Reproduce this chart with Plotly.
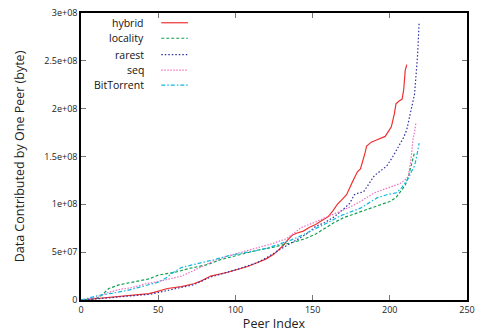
import plotly.graph_objects as go

# Data (values in bytes; y in units of 1e6 bytes)
hybrid_x = [0, 10, 20, 30, 44, 48, 56, 65, 73, 78, 84, 95, 101, 108, 114, 120, 125, 128, 131, 134, 137, 140, 144, 148, 152, 156, 160, 163, 166, 169, 172, 176, 179, 181, 183, 184, 185, 188, 191, 194, 197, 199, 201, 203, 204, 206, 208, 209, 210, 211]
hybrid_y = [0, 1.5, 3, 4.5, 6.6, 8.3, 12, 14, 17, 20, 25, 29, 32, 35, 39, 43, 48, 52, 57, 63, 68, 70, 72, 76, 79, 83, 87, 93, 100, 105, 110, 124, 134, 137, 147, 154, 161, 165, 167, 169, 171, 176, 181, 195, 205, 208, 210, 220, 240, 246]

locality_x = [0, 8, 12, 15, 18, 25, 33, 40, 44, 50, 56, 61, 70, 82, 90, 95, 104, 114, 124, 135, 139, 145, 152, 158, 164, 170, 177, 184, 192, 200, 204, 207, 210, 212, 213, 214, 215, 216]
locality_y = [0, 1, 3, 8, 12, 16, 18.5, 20, 22, 26, 28, 29, 33, 37, 42, 44, 48, 52, 55, 59, 61, 64, 69, 75, 81, 86, 90, 94, 98, 103, 107, 113, 120, 129, 135, 144, 150, 154]

rarest_x = [0, 10, 20, 30, 45, 56, 65, 73, 84, 95, 101, 114, 120, 128, 135, 141, 147, 152, 158, 164, 170, 174, 177, 180, 183, 186, 190, 194, 198, 202, 206, 209, 211, 213, 214, 216, 217, 218, 219]
rarest_y = [0, 1, 2.5, 4, 6, 10, 13, 16, 24, 29, 32, 39, 44, 52, 58, 64, 70, 77, 81, 87, 95, 101, 110, 112, 113, 120, 130, 135, 140, 150, 161, 170, 178, 192, 202, 215, 235, 256, 290]

seq_x = [0, 10, 18, 25, 33, 42, 52, 58, 65, 72, 78, 86, 95, 104, 114, 124, 133, 143, 151, 158, 166, 174, 181, 186, 190, 195, 200, 207, 210, 212, 213, 214, 215, 216, 217]
seq_y = [0, 3, 8, 11, 13, 17, 20, 22, 25, 30, 35, 41, 46, 50, 54, 59, 64, 76, 81, 86, 91, 97, 103, 108, 112, 115, 118, 122, 126, 129, 140, 151, 168, 175, 186]

bt_x = [0, 12, 20, 30, 37, 44, 50, 55, 60, 65, 72, 78, 86, 95, 104, 112, 120, 128, 135, 141, 146, 152, 160, 168, 174, 181, 186, 192, 198, 204, 207, 209, 212, 214, 216, 217, 218, 219]
bt_y = [0, 5, 7, 10, 13, 16, 18.5, 23, 29, 34, 37, 39, 42, 46, 49, 51, 54, 58, 62, 66, 70, 74, 81, 88, 92, 96, 101, 107, 110, 112, 116, 120, 127, 134, 140, 147, 155, 164]

series_names = ["hybrid", "locality", "rarest", "seq", "BitTorrent"]
series_x = [hybrid_x, locality_x, rarest_x, seq_x, bt_x]
series_y = [hybrid_y, locality_y, rarest_y, seq_y, bt_y]
colors = ["#f03030", "#10a050", "#3030a0", "#f070c0", "#10b8e0"]
dashes = ["solid", "3px,2px", "1.5px,2px", "1.5px,1.5px", "4px,2px,1.5px,2px"]

x_ticks = [0, 50, 100, 150, 200, 250]
y_tickvals = [0, 5e7, 1e8, 1.5e8, 2e8, 2.5e8, 3e8]
y_ticktext = ["0", "5e+07", "1e+08", "1.5e+08", "2e+08", "2.5e+08", "3e+08"]

FONT = "Open Sans"

fig = go.Figure()
for name, xs, ys, c, d in zip(series_names, series_x, series_y, colors, dashes):
    fig.add_trace(go.Scatter(
        x=xs, y=[v * 1e6 for v in ys], mode="lines", name=name,
        line=dict(color=c, width=1.2, dash=d, shape="linear"),
        showlegend=False,
    ))

# Manual legend (text right-aligned, sample line to the right)
leg_y = [0.966, 0.912, 0.855, 0.801, 0.749]
for name, c, d, yy in zip(series_names, colors, dashes, leg_y):
    fig.add_annotation(x=0.168, y=yy, xref="paper", yref="paper", text=name,
                       showarrow=False, xanchor="right", yanchor="middle",
                       font=dict(family=FONT, size=10.5, color="#111"))
    fig.add_shape(type="line", xref="paper", yref="paper",
                  x0=0.208, x1=0.277, y0=yy, y1=yy,
                  line=dict(color=c, width=1.2, dash=d))

fig.update_layout(
    width=481, height=332,
    margin=dict(l=81, r=6, t=6, b=31),
    paper_bgcolor="white", plot_bgcolor="white",
    font=dict(family=FONT, size=9, color="#222"),
    xaxis=dict(range=[0, 250], tickvals=x_ticks, ticks="inside", ticklen=5,
               tickcolor="#777", showline=True, linecolor="black", linewidth=1.5,
               mirror="allticks", showgrid=False, zeroline=False,
               tickfont=dict(family=FONT, size=9),
               title=dict(text="Peer Index", font=dict(family=FONT, size=12.5), standoff=2)),
    yaxis=dict(range=[0, 3e8], tickvals=y_tickvals, ticktext=y_ticktext, ticks="inside",
               ticklen=5, tickcolor="#777", showline=True, linecolor="black", linewidth=1.5,
               mirror="allticks", showgrid=False, zeroline=False,
               tickfont=dict(family=FONT, size=9),
               title=dict(text="Data Contributed by One Peer (byte)", font=dict(family=FONT, size=12.5), standoff=17)),
)

fig.write_html("out.html")
